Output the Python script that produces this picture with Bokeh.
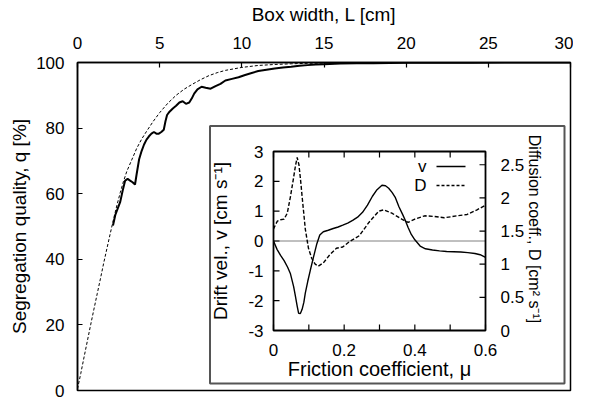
import math
from bokeh.plotting import figure
from bokeh.models import Range1d, FixedTicker
from bokeh.core.properties import value
from bokeh.embed import file_html
from bokeh.resources import INLINE

# ---------------- data ----------------
# main plot: segregation quality vs box width
L_exp = [2.16, 2.3, 2.45, 2.6, 2.75, 2.9, 3.05, 3.2, 3.35, 3.5, 3.6, 3.75, 3.9, 4.05, 4.2,
         4.35, 4.5, 4.65, 4.8, 4.95, 5.1, 5.25, 5.35, 5.45, 5.6, 5.8, 6.0, 6.2, 6.4, 6.6,
         6.8, 6.95, 7.1, 7.3, 7.55, 7.8, 8.1, 8.4, 8.7, 9.0, 9.4, 9.8, 10.2, 10.6, 11.0,
         11.5, 12.0, 12.5, 13.0, 13.5, 14.0, 14.5, 15.0, 16, 17, 18, 20, 22, 24, 26, 28, 30]
q_exp = [50.3, 53.5, 55.5, 57.5, 61, 64, 64.5, 64, 63.5, 62.8, 66, 70.5, 73, 75, 76.5,
         77.5, 78.3, 78.8, 78.3, 78.3, 78.8, 79.5, 82, 84, 85, 86, 86.8, 87.8, 88.2, 87.4,
         87.8, 89, 90.5, 91.8, 92.6, 92.3, 92, 92.8, 93.5, 94.5, 95, 95.5, 96.2, 96.8, 97.4,
         97.8, 98.2, 98.5, 98.7, 99, 99.2, 99.4, 99.5, 99.7, 99.8, 99.8, 99.9, 99.9, 99.9, 100, 100, 100]

L_th = [0, 0.2, 0.4, 0.6, 0.8, 1.0, 1.2, 1.4, 1.6, 1.8, 2.0, 2.2, 2.4, 2.6, 2.8, 3.0, 3.3,
        3.6, 3.9, 4.2, 4.6, 5.0, 5.5, 6.0, 6.5, 7.0, 7.5, 8.0, 8.5, 9.0, 10, 11, 12, 13, 14,
        16, 18, 20, 25, 30]
q_th = [0.5, 5.2, 10.2, 15.1, 20, 24.8, 29.5, 34.2, 39, 43.5, 48, 52.4, 56.5, 60.3, 63.8,
        66.8, 70.3, 73.8, 76.6, 79, 82, 84.7, 87.6, 90, 91.9, 93.4, 94.8, 96, 96.9, 97.6,
        98.5, 99.1, 99.4, 99.6, 99.75, 99.9, 99.95, 100, 100, 100]

main_x_ticks = [0, 5, 10, 15, 20, 25, 30]
main_y_ticks = [0, 20, 40, 60, 80, 100]
main_x_title = "Box width, L [cm]"
main_y_title = "Segregation quality, q [%]"

# inset: drift velocity and diffusion coefficient vs friction coefficient
mu_v = [0, 0.01, 0.02, 0.03, 0.04, 0.048, 0.057, 0.062, 0.067, 0.071, 0.076, 0.081, 0.086,
        0.09, 0.097, 0.104, 0.113, 0.122, 0.131, 0.141, 0.155, 0.169, 0.183, 0.196, 0.21,
        0.224, 0.238, 0.252, 0.266, 0.28, 0.293, 0.307, 0.317, 0.326, 0.336, 0.345, 0.355,
        0.365, 0.372, 0.381, 0.39, 0.4, 0.415, 0.43, 0.45, 0.47, 0.49, 0.51, 0.53, 0.55,
        0.57, 0.585, 0.6]
v_vals = [0, -0.28, -0.48, -0.66, -0.88, -1.1, -1.53, -1.85, -2.18, -2.42, -2.43, -2.29,
          -2.05, -1.75, -1.35, -0.99, -0.55, -0.12, 0.2, 0.31, 0.36, 0.42, 0.47, 0.53, 0.6,
          0.69, 0.8, 0.96, 1.2, 1.5, 1.72, 1.87, 1.85, 1.77, 1.62, 1.45, 1.15, 0.9, 0.72,
          0.45, 0.22, 0.04, -0.17, -0.26, -0.3, -0.33, -0.35, -0.36, -0.37, -0.39, -0.42,
          -0.46, -0.55]
mu_D = [0, 0.006, 0.011, 0.02, 0.03, 0.039, 0.048, 0.057, 0.062, 0.067, 0.072, 0.077, 0.081,
        0.09, 0.099, 0.108, 0.118, 0.127, 0.141, 0.159, 0.178, 0.196, 0.215, 0.243, 0.27,
        0.298, 0.312, 0.335, 0.363, 0.381, 0.4, 0.428, 0.456, 0.483, 0.52, 0.548, 0.576, 0.6]
D_vals = [1.53, 1.6, 1.65, 1.67, 1.68, 1.77, 2.02, 2.31, 2.48, 2.61, 2.5, 2.25, 2.02, 1.53,
          1.24, 1.09, 1.0, 0.97, 1.02, 1.14, 1.24, 1.26, 1.34, 1.43, 1.63, 1.80, 1.82, 1.77,
          1.68, 1.63, 1.68, 1.73, 1.72, 1.70, 1.73, 1.75, 1.82, 1.89]

inset_mu_ticks = [0, 0.1, 0.2, 0.3, 0.4, 0.5, 0.6]
inset_mu_labels = ["0", "0.2", "0.4", "0.6"]
inset_v_ticks = [-3, -2, -1, 0, 1, 2, 3]
inset_v_labels = ["-3", "-2", "-1", "0", "1", "2", "3"]
inset_D_ticks = [0, 0.5, 1, 1.5, 2, 2.5]
inset_D_labels = ["0", "0.5", "1", "1.5", "2", "2.5"]
inset_D_max = 2.7
inset_x_title = "Friction coefficient, \u03bc"
inset_v_title = "Drift vel., v [cm s\u207b\u00b9]"
inset_D_title = "Diffusion coeff., D [cm\u00b2 s\u207b\u00b9]"
legend_labels = ["v", "D"]

# ---------------- layout constants (figure pixels) ----------------
FONT_NAME = "Liberation Sans"
FONT = value(FONT_NAME)
TICK_FS = "17px"
TITLE_FS = "19px"
FIG_W, FIG_H = 573, 399
FR_L, FR_R, FR_T, FR_B = 77, 570, 61, 389          # main frame inside the figure
def to_L(px):
    return (px - FR_L) / (FR_R - FR_L) * main_x_ticks[-1]
def to_q(py):
    return (FR_B - py) / (FR_B - FR_T) * main_y_ticks[-1]

IN_L, IN_R, IN_T, IN_B = 273, 485, 150, 329         # inset frame
BOX_L, BOX_R, BOX_T, BOX_B = 209.5, 564, 124.5, 382  # inset white box

# ---------------- main figure ----------------
p = figure(frame_width=FR_R - FR_L, frame_height=FR_B - FR_T,
           output_backend="svg", toolbar_location=None,
           x_range=Range1d(main_x_ticks[0], main_x_ticks[-1]),
           y_range=Range1d(main_y_ticks[0], main_y_ticks[-1]),
           x_axis_location="above",
           min_border_left=FR_L, min_border_right=FIG_W - FR_R,
           min_border_top=FR_T, min_border_bottom=FIG_H - FR_B)
p.grid.visible = False
p.outline_line_color = "black"
p.outline_line_width = 1.5
p.background_fill_color = "white"
p.border_fill_color = "white"

for ax in (p.xaxis[0], p.yaxis[0]):
    ax.major_tick_in = 5
    ax.major_tick_out = 0
    ax.minor_tick_line_color = None
    ax.axis_line_width = 1.5
    ax.major_tick_line_width = 1.2
    ax.major_label_text_font = FONT_NAME
    ax.major_label_text_font_size = TICK_FS
    ax.major_label_text_color = "black"
    ax.axis_label_text_font = FONT_NAME
    ax.axis_label_text_font_size = TITLE_FS
    ax.axis_label_text_font_style = "normal"
    ax.axis_label_text_color = "black"

p.xaxis[0].ticker = FixedTicker(ticks=main_x_ticks)
p.xaxis[0].axis_label = main_x_title
p.xaxis[0].major_label_standoff = 14
p.xaxis[0].axis_label_standoff = 9
p.yaxis[0].ticker = FixedTicker(ticks=main_y_ticks)
p.yaxis[0].axis_label = main_y_title
p.yaxis[0].major_label_standoff = 13
p.yaxis[0].axis_label_standoff = 3

p.line(L_th, q_th, line_color="black", line_width=1, line_dash="3 2")
p.line(L_exp, q_exp, line_color="black", line_width=2)

# inset white box
p.quad(left=[to_L(BOX_L)], right=[to_L(BOX_R)], bottom=[to_q(BOX_B)], top=[to_q(BOX_T)],
       fill_color="white", line_color="#555555", line_width=2)

# ---------------- inset (sub-coordinates) ----------------
x_src = Range1d(inset_mu_ticks[0], inset_mu_ticks[-1])
v_src = Range1d(inset_v_ticks[0], inset_v_ticks[-1])
d_src = Range1d(inset_D_ticks[0], inset_D_max)
x_tgt = Range1d(to_L(IN_L), to_L(IN_R))
y_tgt = Range1d(to_q(IN_B), to_q(IN_T))
sv = p.subplot(x_source=x_src, y_source=v_src, x_target=x_tgt, y_target=y_tgt)
sd = p.subplot(x_source=x_src, y_source=d_src, x_target=x_tgt, y_target=y_tgt)

mu0, mu1 = inset_mu_ticks[0], inset_mu_ticks[-1]
v0, v1 = inset_v_ticks[0], inset_v_ticks[-1]

# zero line
sv.segment(x0=[mu0], x1=[mu1], y0=[0], y1=[0], line_color="black", line_width=1,
           line_dash="1 1")

# curves
sd.line(mu_D, D_vals, line_color="black", line_width=1.4, line_dash="4 2")
sv.line(mu_v, v_vals, line_color="black", line_width=1.4)

# inset frame
sv.quad(left=[mu0], right=[mu1], bottom=[v0], top=[v1], fill_color=None,
        line_color="black", line_width=1.8)

# ticks (inward, screen length)
TL = 6
n = len(inset_mu_ticks)
sv.ray(x=inset_mu_ticks, y=[v0] * n, length=TL, length_units="screen", angle=math.pi / 2,
       line_color="black", line_width=1.2)
sv.ray(x=inset_mu_ticks, y=[v1] * n, length=TL, length_units="screen", angle=-math.pi / 2,
       line_color="black", line_width=1.2)
sv.ray(x=[mu0] * len(inset_v_ticks), y=inset_v_ticks, length=TL, length_units="screen",
       angle=0, line_color="black", line_width=1.2)
sd.ray(x=[mu1] * len(inset_D_ticks), y=inset_D_ticks, length=TL, length_units="screen",
       angle=math.pi, line_color="black", line_width=1.2)

# tick labels
lab_mu = [float(t) for t in inset_mu_labels]
sv.text(x=lab_mu, y=[v0] * len(lab_mu), text=inset_mu_labels, text_align="center",
        text_baseline="top", y_offset=13, text_font=FONT, text_font_size=TICK_FS,
        text_color="black")
sv.text(x=[mu0] * len(inset_v_ticks), y=inset_v_ticks, text=inset_v_labels,
        text_align="right", text_baseline="middle", x_offset=-10, text_font=FONT,
        text_font_size=TICK_FS, text_color="black")
sd.text(x=[mu1] * len(inset_D_ticks), y=inset_D_ticks, text=inset_D_labels,
        text_align="left", text_baseline="middle", x_offset=15, text_font=FONT,
        text_font_size=TICK_FS, text_color="black")

# axis titles of inset
mu_mid = (mu0 + mu1) / 2
sv.text(x=[mu_mid], y=[v0], text=[inset_x_title], text_align="center",
        text_baseline="middle", y_offset=38, text_font=FONT, text_font_size="20px",
        text_color="black")
sv.text(x=[mu0], y=[0], text=[inset_v_title], text_align="center",
        text_baseline="middle", angle=math.pi / 2, x_offset=-53, text_font=FONT,
        text_font_size=TITLE_FS, text_color="black")
sv.text(x=[mu1], y=[0], text=[inset_D_title],
        text_align="center", text_baseline="middle", angle=-math.pi / 2, x_offset=49,
        y_offset=-12, text_font=FONT, text_font_size="16px", text_color="black")

# legend (label left, sample right)
leg_x0 = mu1 - 49 / (IN_R - IN_L) * (mu1 - mu0)
leg_x1 = mu1 - 20 / (IN_R - IN_L) * (mu1 - mu0)
leg_y = [v1 - 15 / (IN_B - IN_T) * (v1 - v0), v1 - 34 / (IN_B - IN_T) * (v1 - v0)]
sv.text(x=[mu1, mu1], y=leg_y, text=legend_labels, text_align="right",
        text_baseline="middle", x_offset=-59, text_font=FONT, text_font_size=TICK_FS,
        text_color="black")
sv.segment(x0=[leg_x0], x1=[leg_x1], y0=[leg_y[0]], y1=[leg_y[0]], line_color="black",
           line_width=1.4)
sv.segment(x0=[leg_x0], x1=[leg_x1], y0=[leg_y[1]], y1=[leg_y[1]], line_color="black",
           line_width=1.4, line_dash="3 2")

open("out.html", "w").write(file_html(p, INLINE))
